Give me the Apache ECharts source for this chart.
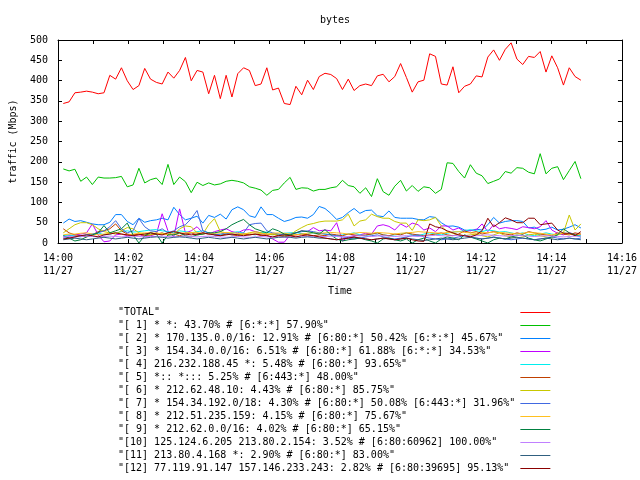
<!DOCTYPE html>
<html><head><meta charset="utf-8">
<script src="https://cdn.jsdelivr.net/npm/echarts@6/dist/echarts.min.js"></script>
<style>html,body{margin:0;padding:0;background:#fff}#c{width:640px;height:480px}</style>
</head><body><div id="c"></div>
<script>
// sampling of the x axis (seconds after 14:00)
const START_SEC = 9, STEP_SEC = 9.9;
const xTickLabels = ['14:00','14:02','14:04','14:06','14:08','14:10','14:12','14:14','14:16'];
const dateLabel = '11/27';

const seriesNames = [
 '"TOTAL"',
 '"[ 1] * *: 43.70% # [6:*:*] 57.90%"',
 '"[ 2] * 170.135.0.0/16: 12.91% # [6:80:*] 50.42% [6:*:*] 45.67%"',
 '"[ 3] * 154.34.0.0/16: 6.51% # [6:80:*] 61.88% [6:*:*] 34.53%"',
 '"[ 4] 216.232.188.45 *: 5.48% # [6:80:*] 93.65%"',
 '"[ 5] *:: *::: 5.25% # [6:443:*] 48.00%"',
 '"[ 6] * 212.62.48.10: 4.43% # [6:80:*] 85.75%"',
 '"[ 7] * 154.34.192.0/18: 4.30% # [6:80:*] 50.08% [6:443:*] 31.96%"',
 '"[ 8] * 212.51.235.159: 4.15% # [6:80:*] 75.67%"',
 '"[ 9] * 212.62.0.0/16: 4.02% # [6:80:*] 65.15%"',
 '"[10] 125.124.6.205 213.80.2.154: 3.52% # [6:80:60962] 100.00%"',
 '"[11] 213.80.4.168 *: 2.90% # [6:80:*] 83.00%"',
 '"[12] 77.119.91.147 157.146.233.243: 2.82% # [6:80:39695] 95.13%"'
];
const seriesColors = ['#ff0000','#00c000','#0080ff','#c000ff','#00eeee','#c04000','#c8c800','#4169e1','#ffc020','#008040','#c080ff','#306080','#8b0000'];

const total = [343.6,347.6,370,371.6,374,371.6,367.6,370,413,403.6,431.6,399.6,378,387.6,430,403.6,395.6,391.6,421,406,425,457,399.6,425,421,367.6,413,355.6,413,359.6,417,431.6,425,387.6,391.6,431.6,377,381.6,343.6,341,386,365,401,378,410,
 418,415,405,378,403.6,375.6,387.6,391.6,387.6,411.6,415.6,397,410,442,407.6,371.6,397,401,466,459.6,391.6,389,434,370,386,391.6,411.6,409,458,475.6,450,477,493,453,439.6,459.6,457,471.6,421,461,431.6,389,431.6,410,401];
const s1 = [182.4,177.6,181.6,152,162.4,144,162.4,160,160,161,164,138.4,143,184,148,156,160,144,193.6,144,162.4,151,124,149.6,141.6,148,143,145.6,152,154.4,152,148,138.4,135,130.4,117.6,129.6,132,148,161.6,132,136,135,128,132,
 132,136,138.4,154.4,141.6,138.4,122.4,136,114.4,158.4,126.4,117.6,140,154.4,128,141.6,127.2,138.4,136,122.4,132,197.6,196,176,160,192.8,172,165.6,146.4,152,157.6,176,172,185.6,184,174.4,170.4,220,170.4,184,188,156,178.4,200.8,158.4];
const s2 = [49,59,53,55,51,47,45,45,51,70,70,53,45,61,51,55,57,61,57,88,70,57,61,66,49,68,63,71,59,82,89,82,67,63,89,70,70,61,53,57,63,64,61,70,90,
 85,73,58,63,75,85,73,80,81,67,65,79,63,61,61,61,58,57,65,63,50,41,42,39,32,30,34,32,45,63,49,53,55,55,53,37,39,32,34,39,32,34,39,45,37];
const s3 = [15,18,20,22,25,47,20,3,5,20,22,18,20,22,15,18,22,72,30,15,84,25,30,40,25,22,28,32,35,28,25,32,33,28,25,20,10,2,2,20,25,30,28,38,30,
 32,30,50,5,15,18,20,24,22,42,45,41,32,47,39,49,45,32,37,28,42,42,32,37,28,31,32,47,28,45,35,38,36,33,40,38,35,40,55,32,24,20,25,22,20];
const s4 = [18,20,17,15,20,22,25,20,22,25,28,30,27,28,30,32,33,30,28,25,30,28,25,28,30,25,22,20,22,25,28,24,22,20,25,27,22,20,24,25,26,23,22,25,24,
 22,20,18,20,22,25,20,18,22,25,20,18,20,22,25,20,18,22,25,22,20,24,27,28,30,33,30,28,32,30,27,28,25,22,25,20,18,22,25,22,20,25,22,20,18];
const s5 = [35,25,20,18,15,20,28,30,35,47,30,22,20,22,18,20,22,25,20,22,18,22,25,20,22,25,20,18,22,20,18,22,20,22,18,20,22,18,15,18,20,22,20,18,20,
 18,22,20,18,22,20,18,20,22,25,20,18,22,20,25,22,20,18,20,22,25,20,18,22,30,25,28,22,25,28,25,22,20,25,22,28,25,22,20,18,25,22,20,25,22];
const s6 = [25,35,45,50,50,45,35,28,25,22,30,38,35,25,22,20,25,22,25,20,35,42,40,25,22,45,60,28,25,22,20,22,25,28,25,22,20,22,18,20,30,38,45,48,52,
 54,54,54,57,71,42,54,57,71,65,61,61,53,49,49,31,57,55,57,63,42,28,24,20,18,20,22,18,15,20,25,18,15,12,15,20,22,18,15,12,20,25,69,32,47];
const s7 = [12,14,15,18,20,22,25,30,40,55,35,25,30,60,40,30,28,35,25,30,40,45,60,80,30,25,20,22,25,20,22,25,45,48,49,30,25,22,20,22,25,28,30,28,25,
 22,20,18,15,12,10,12,15,18,20,15,12,10,12,15,18,20,15,12,10,8,10,12,15,18,15,12,10,12,15,12,10,8,10,12,10,8,10,12,15,12,10,12,10,12];
const s8 = [20,22,22,24,25,22,20,22,24,25,22,20,22,24,25,25,24,22,20,22,24,25,26,25,24,22,24,25,26,25,24,22,24,25,23,22,24,25,24,22,20,22,24,25,24,
 25,26,25,24,22,24,26,25,24,26,25,24,22,24,25,26,28,27,26,25,24,26,27,28,26,25,24,26,25,27,26,25,24,22,24,26,25,24,22,20,22,24,22,20,22];
const s9 = [18,12,5,8,15,20,25,43,25,30,35,49,20,0,18,25,22,0,20,20,25,18,15,20,22,25,25,28,35,45,52,58,45,35,30,25,35,30,22,20,25,30,28,25,22,
 33,20,10,5,8,10,12,8,5,0,10,12,8,5,10,0,8,12,5,0,10,15,12,8,20,15,10,5,0,8,12,10,15,18,20,12,8,5,10,15,20,35,25,20,15];
const s10 = [15,16,15,16,17,16,15,16,17,16,15,16,17,16,15,16,16,17,16,15,16,17,16,15,16,17,16,15,14,15,16,15,14,15,16,15,16,15,14,15,16,17,16,15,16,
 16,17,16,15,16,17,18,17,16,17,18,17,16,17,18,17,16,17,18,19,18,17,18,19,18,17,18,19,20,19,18,17,18,19,18,17,16,17,18,17,16,15,16,17,16];
const s11 = [8,10,12,10,8,10,12,14,12,10,12,14,12,10,12,14,15,14,12,14,15,14,12,10,12,14,12,10,12,14,12,10,12,14,12,10,12,14,15,14,12,14,15,14,12,
 12,10,8,10,12,14,12,10,8,10,12,10,8,10,12,10,8,6,8,10,12,10,8,10,12,14,12,10,12,14,12,10,12,14,12,10,8,10,12,10,8,10,12,10,8];
const s12 = [10,12,15,18,20,18,15,20,22,25,22,20,18,20,22,25,22,20,25,28,25,22,20,22,25,22,20,18,20,22,20,18,20,22,20,18,15,18,20,18,15,18,20,18,15,
 12,10,8,10,12,15,12,10,8,10,12,10,8,10,12,8,5,4,47,40,37,30,25,20,18,15,20,30,61,40,50,62,57,50,50,61,61,45,47,49,32,24,24,18,28];

const allData = [total,s1,s2,s3,s4,s5,s6,s7,s8,s9,s10,s11,s12];
const FONT = 'DejaVu Sans Mono';
const sampleX = i => (START_SEC + STEP_SEC * i) / 60;
const maxLen = Math.max.apply(null, seriesNames.map(s => s.length));

const chart = echarts.init(document.getElementById('c'), null, {renderer: 'canvas'});
const axisCommon = {
  axisLine: {show: true, onZero: false, lineStyle: {color: '#000', width: 1}},
  axisTick: {show: true, inside: true, length: 4, lineStyle: {color: '#000', width: 1}},
  splitLine: {show: false}
};
chart.setOption({
  animation: false,
  backgroundColor: '#fff',
  title: {text: 'bytes', left: 320, top: 15, padding: 0,
    textStyle: {fontFamily: FONT, fontSize: 10, fontWeight: 'normal', color: '#000'}},
  grid: {left: 53, right: 18, top: 40, bottom: 237, containLabel: false},
  legend: {
    orient: 'vertical', left: 118, top: 306.5, align: 'right',
    icon: 'rect', itemWidth: 30, itemHeight: 1, itemGap: 1, padding: 0,
    selectedMode: false,
    data: seriesNames,
    formatter: name => name.padEnd(maxLen, ' '),
    textStyle: {fontFamily: FONT, fontSize: 10, color: '#000', lineHeight: 12, height: 12}
  },
  xAxis: [
    Object.assign({}, axisCommon, {
      type: 'value', min: 0, max: 16, interval: 2, position: 'bottom',
      minorTick: {show: true, splitNumber: 2, length: 4, lineStyle: {color: '#000'}},
      axisLabel: {margin: 9, fontFamily: FONT, fontSize: 10, lineHeight: 13, color: '#000',
        formatter: v => xTickLabels[Math.round(v / 2)] + '\n' + dateLabel},
      name: 'Time', nameLocation: 'middle', nameGap: 43,
      nameTextStyle: {fontFamily: FONT, fontSize: 10, color: '#000'}
    }),
    Object.assign({}, axisCommon, {
      type: 'value', min: 0, max: 16, interval: 2, position: 'top',
      minorTick: {show: true, splitNumber: 2, length: 4, lineStyle: {color: '#000'}},
      axisLabel: {show: false}
    })
  ],
  yAxis: [
    Object.assign({}, axisCommon, {
      type: 'value', min: 0, max: 500, interval: 50, position: 'left',
      axisLabel: {margin: 10, fontFamily: FONT, fontSize: 10, color: '#000'},
      name: 'traffic (Mbps)', nameLocation: 'middle', nameGap: 40,
      nameTextStyle: {fontFamily: FONT, fontSize: 10, color: '#000'}
    }),
    Object.assign({}, axisCommon, {
      type: 'value', min: 0, max: 500, interval: 50, position: 'right',
      axisLabel: {show: false}
    })
  ],
  series: allData.map((arr, k) => ({
    name: seriesNames[k], type: 'line', symbol: 'none', silent: true,
    xAxisIndex: 0, yAxisIndex: 0,
    color: seriesColors[k],
    lineStyle: {width: 1, color: seriesColors[k]},
    data: arr.map((v, i) => [sampleX(i), v])
  }))
});
</script></body></html>
